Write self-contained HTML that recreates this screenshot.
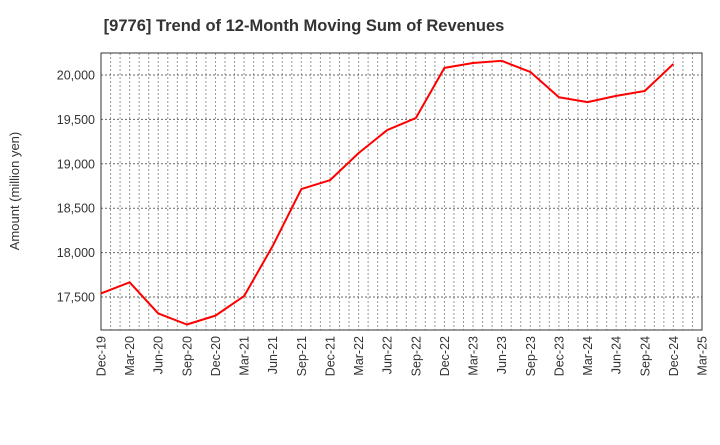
<!DOCTYPE html>
<html><head><meta charset="utf-8"><style>
body{margin:0;background:#fff;font-family:"Liberation Sans",Arial,sans-serif}
svg text{font-family:"Liberation Sans",Arial,sans-serif}
</style></head><body>
<svg id="chart" width="720" height="440">
<text x="304" y="31" text-anchor="middle" font-size="16.5" font-weight="bold" fill="#333">[9776]  Trend of 12-Month Moving Sum of Revenues</text>
<text transform="translate(19,191) rotate(-90)" text-anchor="middle" font-size="13" fill="#333">Amount (million yen)</text>
<g id="grid"></g><g id="axes"></g><g id="series"></g>
</svg>
<script>
const xLabels=["Dec-19","Mar-20","Jun-20","Sep-20","Dec-20","Mar-21","Jun-21","Sep-21","Dec-21","Mar-22","Jun-22","Sep-22","Dec-22","Mar-23","Jun-23","Sep-23","Dec-23","Mar-24","Jun-24","Sep-24","Dec-24","Mar-25"];
const revenues=[17540,17665,17315,17190,17290,17510,18075,18715,18815,19120,19380,19515,20080,20135,20160,20035,19750,19695,19765,19820,20125];
const yTicks=[17500,18000,18500,19000,19500,20000];
const L=101,R=702,T=53,B=330,yMin=17128,yMax=20248;
const xs=i=>L+i*(R-L)/(xLabels.length-1);
const ys=v=>B-(v-yMin)/(yMax-yMin)*(B-T);
const NS="http://www.w3.org/2000/svg";
function mk(tag,attrs,parent){const e=document.createElementNS(NS,tag);for(const k in attrs)e.setAttribute(k,attrs[k]);document.getElementById(parent).appendChild(e);return e;}
const nMonths=(xLabels.length-1)*3;
for(let m=1;m<nMonths;m++){const x=L+m*(R-L)/nMonths;
const g=mk('line',{x1:x,x2:x,y1:T,y2:B,stroke:'#999','stroke-dasharray':'2,2','stroke-width':1},'grid');

}
yTicks.forEach(v=>{const y=ys(v);
const g=mk('line',{x1:L,x2:R,y1:y,y2:y,stroke:'#666','stroke-dasharray':'2,2','stroke-width':1},'grid');


const t=mk('text',{x:L-6,y:y+4.5,'text-anchor':'end','font-size':12.5,fill:'#333'},'axes');t.textContent=v.toLocaleString('en-US');

});
const fr=mk('rect',{x:L,y:T,width:R-L,height:B-T,fill:'none',stroke:'#333','stroke-width':1},'axes');


xLabels.forEach((s,i)=>{const x=xs(i);
const t=mk('text',{transform:`translate(${x+4.5},${B+6}) rotate(-90)`,'text-anchor':'end','font-size':12.5,fill:'#333'},'axes');t.textContent=s;

});
const p=mk('polyline',{points:revenues.map((v,i)=>xs(i)+','+ys(v)).join(' '),fill:'none',stroke:'#f00','stroke-width':2,'stroke-linejoin':'round'},'series');


</script>
</body></html>
